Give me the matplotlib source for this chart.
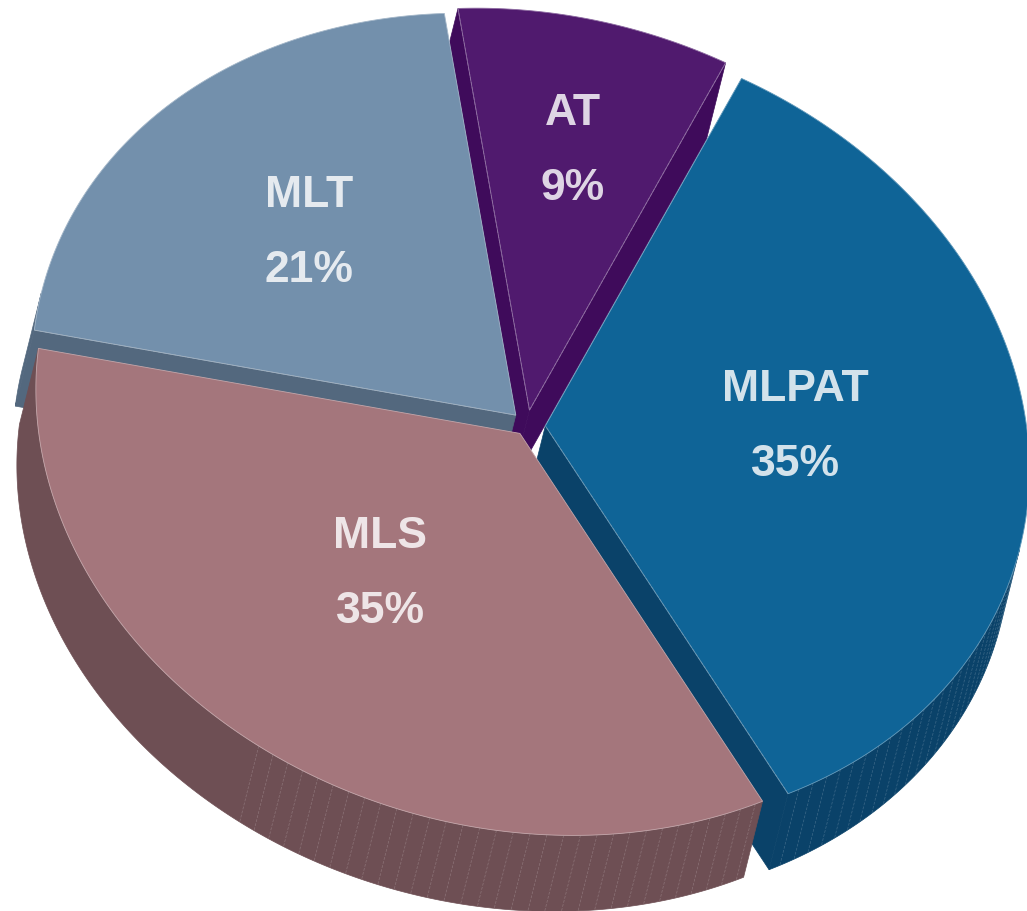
import numpy as np
import matplotlib.pyplot as plt
from matplotlib.patches import Polygon

plt.rcParams['font.family'] = ['Liberation Sans', 'DejaVu Sans']

# data
labels = ["AT", "MLPAT", "MLS", "MLT"]
shares = [9, 35, 35, 21]
explode = [0.038, 0.038, 0.027, 0.032]
label_r = [0.665, 0.52, 0.48, 0.59]   # label distance from slice tip (pie radii)
label_turn = [0, -3, 4, 0]            # label angle offset from slice middle (deg)
top_colors = ["#501A6E", "#0F6497", "#A4767C", "#7390AC"]
side_colors = ["#3F0B5B", "#0A4269", "#6E4F54", "#53687E"]
draw_order = ["AT", "MLT", "MLPAT", "MLS"]   # back to front

start_angle = -7.9   # degrees, clockwise from 12 o'clock
facet_limit = 214    # wall facet lines are only drawn up to this angle

# projection of the tilted disc: screen = centre + proj @ (sin phi, cos phi)
centre = np.array([527.0, 425.0])
proj = np.array([[484.0, -5.0], [40.0, -400.0]])
depth = np.array([-19.0, 76.0])   # screen offset of the pie thickness


def lighten(c, f):
    rgb = np.array(plt.matplotlib.colors.to_rgb(c))
    return tuple(rgb + (1 - rgb) * f)


def rim_points(phis, tip):
    return tip + (proj @ np.vstack([np.sin(phis), np.cos(phis)])).T


def direction(deg):
    a = np.radians(deg)
    return proj @ np.array([np.sin(a), np.cos(a)])


def draw_slice(ax, i, a0, a1):
    mid = (a0 + a1) / 2
    tip = centre + explode[i] * direction(mid)
    n = int((a1 - a0) * 2) + 2
    angles = np.linspace(a0, a1, n)
    arc = rim_points(np.radians(angles), tip)
    top = np.vstack([tip, arc])
    inside = top.mean(axis=0)

    def facing(p1, p2):
        e = p2 - p1
        nrm = np.array([e[1], -e[0]])
        if np.dot(nrm, (p1 + p2) / 2 - inside) < 0:
            nrm = -nrm
        return np.dot(nrm, depth) > 0

    side = side_colors[i]
    line_c = lighten(side, 0.45)

    # radial cut faces
    for p1, p2 in [(tip, arc[0]), (arc[-1], tip)]:
        if facing(p1, p2):
            quad = np.array([p1, p2, p2 + depth, p1 + depth])
            ax.add_patch(Polygon(quad, closed=True, fc=side, ec=side, lw=0.5))
            ax.plot([p1[0], p2[0]], [p1[1], p2[1]], color=line_c, lw=0.6,
                    ls=(0, (4, 2)), alpha=0.6)

    # outer wall, grouped in visible runs
    vis = [facing(arc[j], arc[j + 1]) for j in range(len(arc) - 1)]
    j = 0
    while j < len(vis):
        if not vis[j]:
            j += 1
            continue
        k = j
        while k < len(vis) and vis[k]:
            k += 1
        seg = arc[j:k + 1]
        wall = np.vstack([seg, (seg + depth)[::-1]])
        ax.add_patch(Polygon(wall, closed=True, fc=side, ec=side, lw=0.5))
        for m in range(j + 2, k, 4):
            if angles[m] % 360 > facet_limit:
                continue
            p = arc[m]
            ax.plot([p[0], p[0] + depth[0]], [p[1], p[1] + depth[1]],
                    color=line_c, lw=0.5, ls=(0, (4, 2)), alpha=0.45)
        j = k

    # top face
    ax.add_patch(Polygon(top, closed=True, fc=top_colors[i],
                         ec=lighten(top_colors[i], 0.35), lw=0.6))

    lp = tip + label_r[i] * direction(mid + label_turn[i])
    for text, dy in [(labels[i], -37.5), (f"{shares[i]}%", 37.5)]:
        ax.text(lp[0], lp[1] + dy, text, ha='center', va='center',
                fontsize=32, fontweight='bold', color='white', alpha=0.82)


fig = plt.figure(figsize=(10.27, 9.11), dpi=100)
ax = fig.add_axes([0, 0, 1, 1])
ax.set_xlim(0, 1027)
ax.set_ylim(911, 0)
ax.axis('off')

bounds = start_angle + np.concatenate([[0], np.cumsum(shares)]) * 3.6
for name in draw_order:
    i = labels.index(name)
    draw_slice(ax, i, bounds[i], bounds[i + 1])

fig.savefig("out.png", dpi=100)
